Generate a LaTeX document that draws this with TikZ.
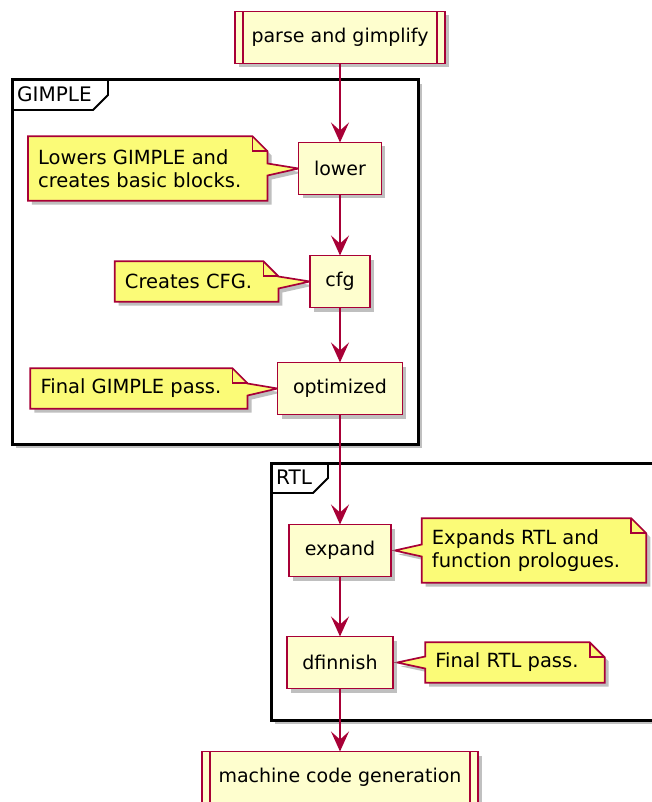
\documentclass[tikz,border=0pt]{standalone}
\usepackage{fontspec}
\setmainfont{DejaVu Sans}
\usepackage{tikz}
\usetikzlibrary{arrows.meta,positioning,shadows}
\definecolor{umlred}{RGB}{168,0,54}
\definecolor{umlbox}{RGB}{254,254,206}
\definecolor{umlnote}{RGB}{251,251,119}
\pgfdeclarelayer{frames}
\pgfdeclarelayer{notes}
\pgfsetlayers{frames,notes,main}
\newcommand{\subbars}[1]{%
  \draw[umlred,line width=1.8pt]
    ([xshift=8pt]#1.north west) -- ([xshift=8pt]#1.south west)
    ([xshift=-8pt]#1.north east) -- ([xshift=-8pt]#1.south east);}
\newcommand{\noteleft}[2]{%
  \begin{pgfonlayer}{notes}
  \filldraw[noteshape] (#1.north west) -- ([xshift=1pt]#1.north east)
    -- ([xshift=16pt,yshift=-15pt]#1.north east)
    -- ([xshift=16pt,yshift=5pt]#1.east) -- (#2.west)
    -- ([xshift=16pt,yshift=-7pt]#1.east)
    -- ([xshift=16pt]#1.south east) -- (#1.south west) -- cycle;
  \draw[noteline] ([xshift=1pt]#1.north east)
    |- ([xshift=16pt,yshift=-15pt]#1.north east);
  \end{pgfonlayer}}
\newcommand{\noteright}[2]{%
  \begin{pgfonlayer}{notes}
  \filldraw[noteshape] (#1.north west) -- ([xshift=1pt]#1.north east)
    -- ([xshift=16pt,yshift=-15pt]#1.north east)
    -- ([xshift=16pt]#1.south east) -- (#1.south west)
    -- ([yshift=-6pt]#1.west) -- ([xshift=4pt]#2.east)
    -- ([yshift=6pt]#1.west) -- cycle;
  \draw[noteline] ([xshift=1pt]#1.north east)
    |- ([xshift=16pt,yshift=-15pt]#1.north east);
  \end{pgfonlayer}}

\begin{document}
\begin{tikzpicture}[
  x=1pt, y=-1pt,
  shade/.style={
    drop shadow={shadow xshift=4pt,shadow yshift=-4pt,
      fill=black!45,opacity=.55}
  },
  act/.style={
    draw=umlred, fill=umlbox, line width=1.9pt, outer sep=0pt,
    minimum height=52pt, inner xsep=15.5pt,
    font=\fontsize{19}{23}\selectfont, shade
  },
  subact/.style={act,inner xsep=16.5pt},
  remark/.style={
    align=left, inner xsep=10pt, inner ysep=8pt,
    minimum height=40pt,
    font=\fontsize{19.5}{23}\selectfont
  },
  noteline/.style={draw=umlred,line width=1.7pt},
  noteshape/.style={noteline,fill=umlnote,shade},
  frameline/.style={draw=black,line width=3pt,fill=white,shade},
  tabline/.style={draw=black,line width=1.8pt},
  framelabel/.style={anchor=base west,inner sep=0pt,
    font=\fontsize{20}{24}\selectfont},
  flow/.style={draw=umlred,line width=1.8pt,
    -{Stealth[length=20pt,width=18pt,inset=8pt]}}
]
\useasboundingbox (0,0) rectangle (652,802);
\clip (0,0) rectangle (652,802);

% groups
\begin{pgfonlayer}{frames}
\begin{scope}
\clip (0,0) rectangle (652,802);
\filldraw[frameline] (12,80) rectangle (418,444);
\draw[tabline] (12,110) -- (93,110) -- (108,95) -- (108,80);
\filldraw[frameline] (271,463) rectangle (690,720);
\draw[tabline] (271,493) -- (313,493) -- (328,478) -- (328,463);
\end{scope}
\end{pgfonlayer}
\node[framelabel] (gimpletag) at (17,102) {GIMPLE};
\node[framelabel] (rtltag) at (276,484) {RTL};

% passes
\node[subact] (parse) at (340,37.5) {parse and gimplify};
\subbars{parse}
\node[act,below=79pt of parse] (lower) {lower};
\node[act,below=61pt of lower] (cfg) {cfg};
\node[act,below=55pt of cfg] (optimized) {optimized};
\node[act,below=110pt of optimized] (expand) {expand};
\node[act,below=60pt of expand] (dfinnish) {dfinnish};
\node[subact,below=63pt of dfinnish] (mcgen) {machine code generation};
\subbars{mcgen}

\draw[flow] (parse) -- (lower);
\draw[flow] (lower) -- (cfg);
\draw[flow] (cfg) -- (optimized);
\draw[flow] (optimized) -- (expand);
\draw[flow] (expand) -- (dfinnish);
\draw[flow] (dfinnish) -- (mcgen);

% notes
\node[remark,minimum height=64pt,left=47pt of lower]
  (lowernote) {Lowers GIMPLE and\\creates basic blocks.};
\noteleft{lowernote}{lower}
\node[remark,left=47.5pt of cfg] (cfgnote) {Creates CFG.};
\noteleft{cfgnote}{cfg}
\node[remark,left=46pt of optimized] (optnote) {Final GIMPLE pass.};
\noteleft{optnote}{optimized}
\node[remark,minimum height=64pt,right=31pt of expand]
  (expandnote) {Expands RTL and\\function prologues.};
\noteright{expandnote}{expand}
\node[remark,right=32pt of dfinnish] (dfnote) {Final RTL pass.};
\noteright{dfnote}{dfinnish}
\end{tikzpicture}
\end{document}
